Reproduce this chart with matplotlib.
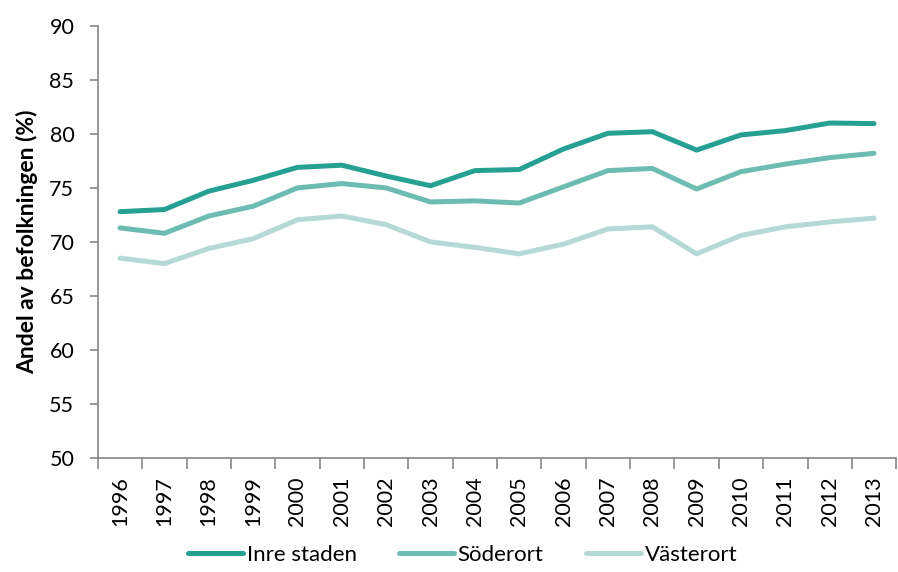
import numpy as np
import matplotlib
matplotlib.use("Agg")
import matplotlib.pyplot as plt

plt.rcParams['font.family'] = ['Lato', 'DejaVu Sans']

years = [str(y) for y in range(1996, 2014)]
inre_staden = [72.8, 73.0, 74.7, 75.7, 76.9, 77.1, 76.1, 75.2, 76.6, 76.7,
               78.6, 80.05, 80.2, 78.5, 79.9, 80.3, 81.0, 80.95]
soderort = [71.3, 70.8, 72.4, 73.3, 75.0, 75.4, 75.0, 73.7, 73.8, 73.6,
            75.1, 76.6, 76.8, 74.9, 76.5, 77.2, 77.8, 78.2]
vasterort = [68.5, 68.0, 69.4, 70.3, 72.05, 72.4, 71.6, 70.0, 69.5, 68.9,
             69.8, 71.2, 71.4, 68.9, 70.6, 71.4, 71.85, 72.2]

series = [("Inre staden", inre_staden, "#26a092"),
          ("Söderort", soderort, "#6dbcb2"),
          ("Västerort", vasterort, "#b5d9d4")]

fig = plt.figure(figsize=(8.98, 5.72), dpi=100)
ax = fig.add_axes([0.109, 0.199, 0.889, 0.756])

x = np.arange(len(years))
for name, vals, col in series:
    ax.plot(x, vals, color=col, lw=3.6, label=name, solid_capstyle='round')

ax.set_xlim(-0.5, len(years) - 0.5)
ax.set_ylim(50, 90)
ax.set_yticks(range(50, 91, 5))
ax.set_xticks(x)
ax.set_xticklabels(years, rotation=90, fontsize=15.5)
ax.set_xticks(np.arange(-0.5, len(years), 1), minor=True)
ax.tick_params(axis='x', which='major', length=0, pad=13)
ax.tick_params(axis='x', which='minor', length=8, color='#868686', width=1.2)
ax.tick_params(axis='y', length=6, color='#868686', width=1.2, labelsize=15.5, pad=11)

for s in ['top', 'right']:
    ax.spines[s].set_visible(False)
for s in ['left', 'bottom']:
    ax.spines[s].set_color('#868686')
    ax.spines[s].set_linewidth(1.2)

ax.set_ylabel("Andel av befolkningen (%)", fontsize=16.5, fontweight='bold', labelpad=8)

# legend sits in the strip under the rotated year labels
fig.legend(loc='lower center', bbox_to_anchor=(0.515, -0.022), ncol=3, frameon=False,
           fontsize=16, handlelength=2.5, columnspacing=1.9, handletextpad=0.15)

fig.savefig("out.png", dpi=100)
